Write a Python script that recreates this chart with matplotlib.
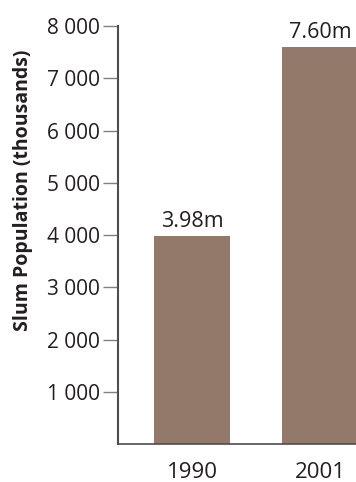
import matplotlib.pyplot as plt

years = ["1990", "2001"]
slum_pop = [3980, 7600]  # thousands
bar_labels = ["3.98m", "7.60m"]
y_ticks = [1000, 2000, 3000, 4000, 5000, 6000, 7000, 8000]
y_tick_labels = ["1 000", "2 000", "3 000", "4 000", "5 000", "6 000", "7 000", "8 000"]

plt.rcParams['font.family'] = ['Open Sans', 'DejaVu Sans']
txt_col = "#231f20"

fig = plt.figure(figsize=(3.56, 4.82), dpi=100)
ax = fig.add_axes([0.3315, 0.0788, 0.6685, 0.867])

x = range(len(years))
ax.bar(x, slum_pop, width=0.594, color="#937969")

for i, (v, lab) in enumerate(zip(slum_pop, bar_labels)):
    ax.text(i, v + 70, lab, ha="center", va="bottom", fontsize=15.5, color=txt_col)

ax.set_xlim(-0.578, 1.281)
ax.set_ylim(0, 8000)
ax.set_yticks(y_ticks)
ax.set_yticklabels(y_tick_labels, fontsize=15, color=txt_col)
ax.set_xticks(list(x))
ax.set_xticklabels(years, fontsize=16, color=txt_col)
ax.tick_params(axis="x", length=0, pad=13)
ax.tick_params(axis="y", length=11, width=1, color="#808080", pad=2)

ax.spines["top"].set_visible(False)
ax.spines["right"].set_visible(False)
ax.spines["left"].set_color("#4d4d4d")
ax.spines["left"].set_linewidth(1.5)
ax.spines["bottom"].set_color("#4d4d4d")
ax.spines["bottom"].set_linewidth(1.2)

fig.text(23 / 356, 1 - 190 / 482, "Slum Population (thousands)", rotation=90,
         ha="center", va="center", fontsize=14, fontweight="bold", color=txt_col)

fig.savefig("out.png", dpi=100)
